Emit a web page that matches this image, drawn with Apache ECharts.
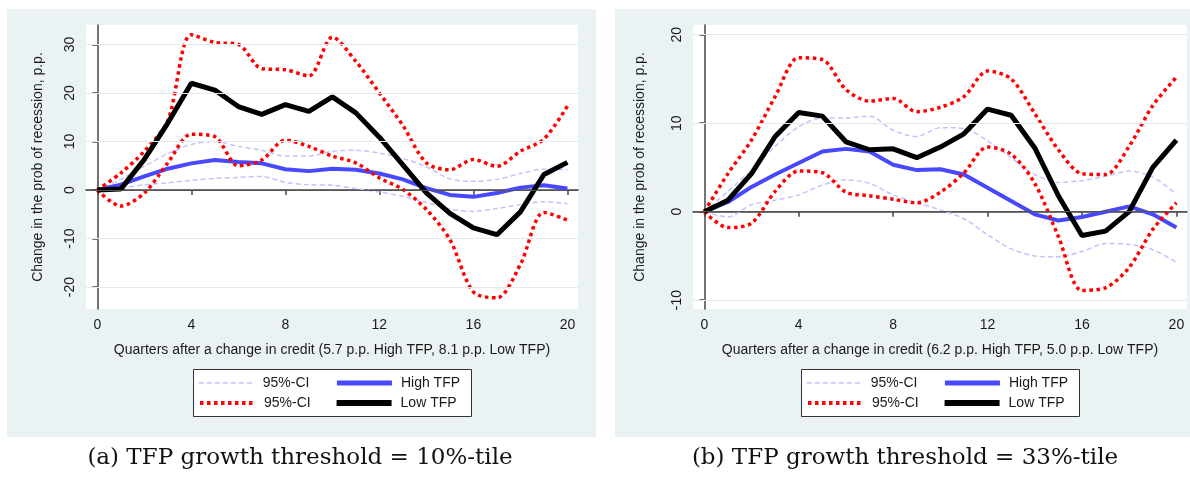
<!DOCTYPE html>
<html>
<head>
<meta charset="utf-8">
<script src="https://cdn.jsdelivr.net/npm/echarts@6/dist/echarts.min.js"></script>
<style>
html, body { margin: 0; padding: 0; background: #fff; }
#main { width: 1190px; height: 478px; }
</style>
</head>
<body>
<div id="main"></div>
<script>
// quarters after the credit change
var quarters = [0, 1, 2, 3, 4, 5, 6, 7, 8, 9, 10, 11, 12, 13, 14, 15, 16, 17, 18, 19, 20];
var xTicks = [0, 4, 8, 12, 16, 20];

// (a) threshold = 10%-tile
var aHigh   = [0, 1.1, 2.8, 4.4, 5.5, 6.2, 5.8, 5.5, 4.3, 3.9, 4.4, 4.2, 3.4, 2.2, 0.4, -1.0, -1.4, -0.6, 0.5, 1.0, 0.3];
var aHighUp = [0, 2.2, 4.9, 7.5, 9.4, 10.0, 9.0, 8.2, 7.0, 7.0, 8.0, 8.2, 7.6, 6.5, 4.8, 2.3, 1.8, 2.2, 3.4, 4.3, 4.2];
var aHighLo = [0, 0.4, 1.1, 1.5, 2.0, 2.4, 2.6, 2.8, 1.6, 1.1, 1.0, 0.3, -0.4, -1.3, -2.5, -3.9, -4.4, -3.8, -3.0, -2.4, -2.8];
var aLow    = [0, 0.2, 6.3, 13.8, 22.0, 20.6, 17.2, 15.6, 17.6, 16.2, 19.2, 15.9, 10.9, 5.2, -0.6, -4.8, -7.8, -9.2, -4.5, 3.2, 5.7];
var aLowUp  = [0, 3.5, 8.0, 14.3, 32.0, 30.4, 30.0, 25.0, 24.8, 23.5, 31.5, 26.5, 20.0, 13.3, 5.6, 4.2, 6.3, 4.9, 8.0, 10.5, 17.3];
var aLowLo  = [0, -3.3, -0.6, 5.6, 11.5, 11.0, 5.0, 6.2, 10.3, 9.0, 7.0, 5.6, 2.5, 0.1, -4.0, -10.2, -21.0, -22.2, -15.3, -4.6, -6.2];
var aYTicks = [-20, -10, 0, 10, 20, 30];

// (b) threshold = 33%-tile
var bHigh   = [0, 1.1, 2.8, 4.2, 5.5, 6.8, 7.1, 6.8, 5.3, 4.7, 4.8, 4.2, 2.7, 1.2, -0.3, -1.0, -0.6, 0.0, 0.6, -0.3, -1.8];
var bHighUp = [0, 2.3, 4.7, 7.4, 9.6, 10.6, 10.6, 10.8, 9.2, 8.5, 9.5, 9.4, 8.0, 6.1, 4.2, 3.3, 3.5, 4.0, 4.6, 3.9, 2.0];
var bHighLo = [0, -0.6, 0.8, 1.3, 1.9, 3.0, 3.6, 3.2, 1.9, 1.0, 0.2, -0.8, -2.6, -4.2, -5.0, -5.1, -4.5, -3.6, -3.7, -4.3, -5.7];
var bLow    = [0, 1.3, 4.3, 8.5, 11.2, 10.8, 7.9, 7.0, 7.1, 6.1, 7.3, 8.8, 11.6, 10.9, 7.2, 1.8, -2.7, -2.2, 0.0, 5.0, 8.1];
var bLowUp  = [0, 4.3, 8.1, 13.0, 17.4, 17.2, 13.8, 12.5, 12.8, 11.3, 11.8, 13.0, 15.9, 15.0, 11.1, 7.0, 4.3, 4.2, 7.4, 12.0, 15.2];
var bLowLo  = [0, -1.8, -1.3, 2.3, 4.6, 4.4, 2.2, 1.8, 1.4, 1.0, 2.2, 4.4, 7.3, 6.5, 3.2, -2.8, -8.9, -8.6, -6.3, -2.0, 1.0];
var bYTicks = [-10, 0, 10, 20];

var xTitles = [
    'Quarters after a change in credit (5.7 p.p. High TFP, 8.1 p.p. Low TFP)',
    'Quarters after a change in credit (6.2 p.p. High TFP, 5.0 p.p. Low TFP)'
];
var captions = [
    '(a) TFP growth threshold = 10%-tile',
    '(b) TFP growth threshold = 33%-tile'
];
var yTitle = 'Change in the prob of recession, p.p.';

var FONT = 'Liberation Sans, Arial, sans-serif';
var TXT = '#1a1a1a';

function pairs(arr) {
    return quarters.map(function (q, i) { return [q, arr[i]]; });
}

function panelSeries(idx, hi, hiUp, hiLo, lo, loUp, loLo, yTicks) {
    var grid = [];
    yTicks.forEach(function (v) {
        if (v !== 0) grid.push({ yAxis: v, lineStyle: { color: '#e3eaec', width: 1, type: 'solid' } });
    });
    grid.push({ yAxis: 0, lineStyle: { color: '#555', width: 1, type: 'solid' } });
    var lightCI = { color: '#c2c2ff', width: 1.5, type: [5, 3] };
    var redCI = { color: '#ff0000', width: 3.5, type: [3.5, 3.5] };
    return [
        { name: '95%-CI', type: 'line', xAxisIndex: idx, yAxisIndex: idx, data: pairs(hiUp), symbol: 'none', smooth: 0.3, lineStyle: lightCI, itemStyle: { color: '#c2c2ff' },
          markLine: { silent: true, symbol: ['none', 'none'], label: { show: false }, animation: false, data: grid } },
        { name: '95%-CI', type: 'line', xAxisIndex: idx, yAxisIndex: idx, data: pairs(hiLo), symbol: 'none', smooth: 0.3, lineStyle: lightCI, itemStyle: { color: '#c2c2ff' } },
        { name: 'High TFP', type: 'line', xAxisIndex: idx, yAxisIndex: idx, data: pairs(hi), symbol: 'none', lineStyle: { color: '#4848ff', width: 4 }, itemStyle: { color: '#4848ff' } },
        { name: '95%-CI ', type: 'line', xAxisIndex: idx, yAxisIndex: idx, data: pairs(loUp), symbol: 'none', smooth: 0.3, lineStyle: redCI, itemStyle: { color: '#ff0000' } },
        { name: '95%-CI ', type: 'line', xAxisIndex: idx, yAxisIndex: idx, data: pairs(loLo), symbol: 'none', smooth: 0.3, lineStyle: redCI, itemStyle: { color: '#ff0000' } },
        { name: 'Low TFP', type: 'line', xAxisIndex: idx, yAxisIndex: idx, data: pairs(lo), symbol: 'none', lineStyle: { color: '#000', width: 5 }, itemStyle: { color: '#000' } }
    ];
}

function xAxisFor(idx) {
    return {
        type: 'value', gridIndex: idx, min: -0.48, max: 20.45,
        name: xTitles[idx], nameLocation: 'middle', nameGap: 34,
        nameTextStyle: { fontFamily: FONT, fontSize: 14, color: TXT },
        axisLine: { lineStyle: { color: '#444', width: 1.5 } },
        axisTick: { length: 5, customValues: xTicks, lineStyle: { color: '#444', width: 1.5 } },
        axisLabel: { customValues: xTicks, margin: 9, fontFamily: FONT, fontSize: 14, color: TXT },
        splitLine: { show: false }
    };
}

function yAxisFor(idx, lo, hi, ticks, gap) {
    return {
        type: 'value', gridIndex: idx, min: lo, max: hi,
        name: yTitle, nameLocation: 'middle', nameGap: gap, nameRotate: 90,
        nameTextStyle: { fontFamily: FONT, fontSize: 14, color: TXT },
        axisLine: { show: true, lineStyle: { color: '#444', width: 1.5 } },
        axisTick: { show: true, length: 5, customValues: ticks, lineStyle: { color: '#444', width: 1.5 } },
        axisLabel: { customValues: ticks, rotate: 90, margin: 9, fontFamily: FONT, fontSize: 14, color: TXT },
        splitLine: { show: false }
    };
}

// legend icon thickness, as drawn in the key
var keyWidths = { '95%-CI': 1.5, 'High TFP': 5, '95%-CI ': 4, 'Low TFP': 6 };

function legendRow(left, top, names, gap) {
    return {
        data: names.map(function (n) { return { name: n, lineStyle: { width: keyWidths[n] } }; }),
        left: left, top: top, orient: 'horizontal',
        itemWidth: 55, itemHeight: 13, itemGap: gap, padding: 0,
        selectedMode: false,
        itemStyle: { opacity: 0 },
        textStyle: { fontFamily: FONT, fontSize: 14, color: TXT, padding: [0, 0, 0, 4] }
    };
}

var chart = echarts.init(document.getElementById('main'));

var option = {
    animation: false,
    backgroundColor: '#ffffff',
    grid: [
        { left: 86, top: 25, width: 492, height: 284, show: true, backgroundColor: '#ffffff', borderWidth: 0 },
        { left: 693, top: 25, width: 494, height: 284, show: true, backgroundColor: '#ffffff', borderWidth: 0 }
    ],
    xAxis: [xAxisFor(0), xAxisFor(1)],
    yAxis: [yAxisFor(0, -24.5, 34, aYTicks, 41), yAxisFor(1, -11, 21.1, bYTicks, 46)],
    legend: [
        legendRow(198, 376, ['95%-CI', 'High TFP'], 25),
        legendRow(198, 396, ['95%-CI ', 'Low TFP'], 19),
        legendRow(806, 376, ['95%-CI', 'High TFP'], 25),
        legendRow(806, 396, ['95%-CI ', 'Low TFP'], 19)
    ],
    graphic: [
        { type: 'rect', z: -10, shape: { x: 7, y: 9, width: 589, height: 428 }, style: { fill: '#eaf2f3' } },
        { type: 'rect', z: -10, shape: { x: 615, y: 9, width: 575, height: 428 }, style: { fill: '#eaf2f3' } },
        { type: 'rect', z: 1, shape: { x: 193.5, y: 369.5, width: 278, height: 47 }, style: { fill: '#fff', stroke: '#333', lineWidth: 1 } },
        { type: 'rect', z: 1, shape: { x: 801.5, y: 369.5, width: 278, height: 47 }, style: { fill: '#fff', stroke: '#333', lineWidth: 1 } },
        { type: 'text', x: 300, y: 458, style: { text: captions[0], fontFamily: 'DejaVu Serif', fontSize: 23, fill: '#111', textAlign: 'center', textVerticalAlign: 'middle' } },
        { type: 'text', x: 905, y: 458, style: { text: captions[1], fontFamily: 'DejaVu Serif', fontSize: 23, fill: '#111', textAlign: 'center', textVerticalAlign: 'middle' } }
    ],
    series: panelSeries(0, aHigh, aHighUp, aHighLo, aLow, aLowUp, aLowLo, aYTicks)
        .concat(panelSeries(1, bHigh, bHighUp, bHighLo, bLow, bLowUp, bLowLo, bYTicks))
};

chart.setOption(option);
</script>
</body>
</html>
